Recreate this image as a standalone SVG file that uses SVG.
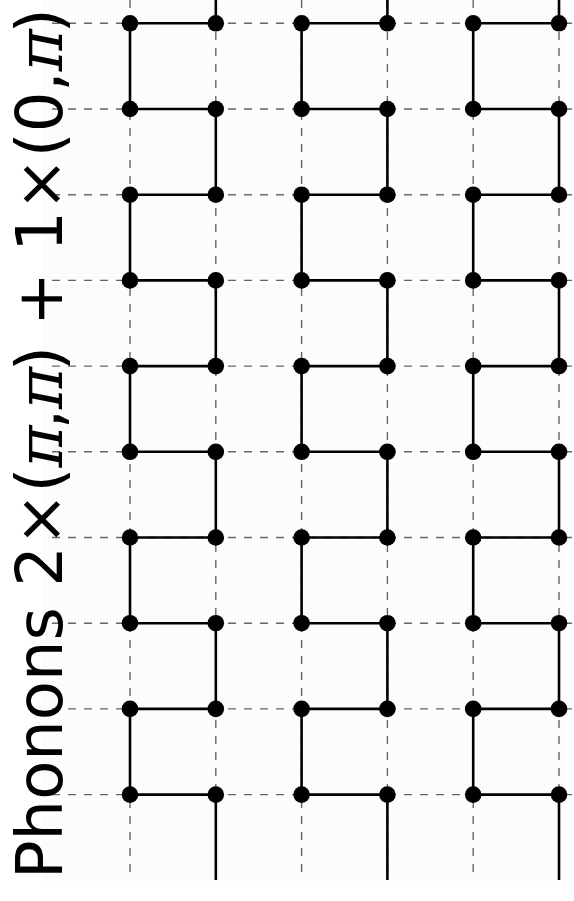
<svg xmlns="http://www.w3.org/2000/svg" width="574" height="901" viewBox="0 0 574 901">
<style>
.grid line{stroke:#666;stroke-width:1.4;stroke-dasharray:8 8;fill:none}
.edge{stroke:#000;stroke-width:2.6;fill:none;stroke-linejoin:miter}
.node circle{fill:#000}
.lbl{font-family:"DejaVu Sans",sans-serif;font-size:64px;fill:#000}
.pi{font-family:"DejaVu Serif",serif;font-style:italic;letter-spacing:-4px}
</style>
<rect x="0" y="0" width="574" height="901" fill="#fff"/>
<rect x="42" y="0" width="521" height="881" fill="#fcfcfc"/>
<g id="grid" class="grid">
<line x1="52" y1="23.3" x2="574" y2="23.3"/>
<line x1="52" y1="109" x2="574" y2="109"/>
<line x1="52" y1="194.7" x2="574" y2="194.7"/>
<line x1="52" y1="280.4" x2="574" y2="280.4"/>
<line x1="52" y1="366.1" x2="574" y2="366.1"/>
<line x1="52" y1="451.8" x2="574" y2="451.8"/>
<line x1="52" y1="537.5" x2="574" y2="537.5"/>
<line x1="52" y1="623.2" x2="574" y2="623.2"/>
<line x1="52" y1="708.9" x2="574" y2="708.9"/>
<line x1="52" y1="794.6" x2="574" y2="794.6"/>
<line x1="130" y1="0" x2="130" y2="880"/>
<line x1="215.8" y1="0" x2="215.8" y2="880"/>
<line x1="301.6" y1="0" x2="301.6" y2="880"/>
<line x1="387.4" y1="0" x2="387.4" y2="880"/>
<line x1="473.2" y1="0" x2="473.2" y2="880"/>
<line x1="559" y1="0" x2="559" y2="880"/>
</g>
<g id="connectors">
<path class="edge" d="M215.8 0V23.3H130V109H215.8V194.7H130V280.4H215.8V366.1H130V451.8H215.8V537.5H130V623.2H215.8V708.9H130V794.6H215.8V880"/>
<path class="edge" d="M387.4 0V23.3H301.6V109H387.4V194.7H301.6V280.4H387.4V366.1H301.6V451.8H387.4V537.5H301.6V623.2H387.4V708.9H301.6V794.6H387.4V880"/>
<path class="edge" d="M559 0V23.3H473.2V109H559V194.7H473.2V280.4H559V366.1H473.2V451.8H559V537.5H473.2V623.2H559V708.9H473.2V794.6H559V880"/>
</g>
<g id="nodes">
<g id="n0-0" class="node"><circle cx="130" cy="23.3" r="8.3"/></g>
<g id="n0-1" class="node"><circle cx="215.8" cy="23.3" r="8.3"/></g>
<g id="n0-2" class="node"><circle cx="301.6" cy="23.3" r="8.3"/></g>
<g id="n0-3" class="node"><circle cx="387.4" cy="23.3" r="8.3"/></g>
<g id="n0-4" class="node"><circle cx="473.2" cy="23.3" r="8.3"/></g>
<g id="n0-5" class="node"><circle cx="559" cy="23.3" r="8.3"/></g>
<g id="n1-0" class="node"><circle cx="130" cy="109" r="8.3"/></g>
<g id="n1-1" class="node"><circle cx="215.8" cy="109" r="8.3"/></g>
<g id="n1-2" class="node"><circle cx="301.6" cy="109" r="8.3"/></g>
<g id="n1-3" class="node"><circle cx="387.4" cy="109" r="8.3"/></g>
<g id="n1-4" class="node"><circle cx="473.2" cy="109" r="8.3"/></g>
<g id="n1-5" class="node"><circle cx="559" cy="109" r="8.3"/></g>
<g id="n2-0" class="node"><circle cx="130" cy="194.7" r="8.3"/></g>
<g id="n2-1" class="node"><circle cx="215.8" cy="194.7" r="8.3"/></g>
<g id="n2-2" class="node"><circle cx="301.6" cy="194.7" r="8.3"/></g>
<g id="n2-3" class="node"><circle cx="387.4" cy="194.7" r="8.3"/></g>
<g id="n2-4" class="node"><circle cx="473.2" cy="194.7" r="8.3"/></g>
<g id="n2-5" class="node"><circle cx="559" cy="194.7" r="8.3"/></g>
<g id="n3-0" class="node"><circle cx="130" cy="280.4" r="8.3"/></g>
<g id="n3-1" class="node"><circle cx="215.8" cy="280.4" r="8.3"/></g>
<g id="n3-2" class="node"><circle cx="301.6" cy="280.4" r="8.3"/></g>
<g id="n3-3" class="node"><circle cx="387.4" cy="280.4" r="8.3"/></g>
<g id="n3-4" class="node"><circle cx="473.2" cy="280.4" r="8.3"/></g>
<g id="n3-5" class="node"><circle cx="559" cy="280.4" r="8.3"/></g>
<g id="n4-0" class="node"><circle cx="130" cy="366.1" r="8.3"/></g>
<g id="n4-1" class="node"><circle cx="215.8" cy="366.1" r="8.3"/></g>
<g id="n4-2" class="node"><circle cx="301.6" cy="366.1" r="8.3"/></g>
<g id="n4-3" class="node"><circle cx="387.4" cy="366.1" r="8.3"/></g>
<g id="n4-4" class="node"><circle cx="473.2" cy="366.1" r="8.3"/></g>
<g id="n4-5" class="node"><circle cx="559" cy="366.1" r="8.3"/></g>
<g id="n5-0" class="node"><circle cx="130" cy="451.8" r="8.3"/></g>
<g id="n5-1" class="node"><circle cx="215.8" cy="451.8" r="8.3"/></g>
<g id="n5-2" class="node"><circle cx="301.6" cy="451.8" r="8.3"/></g>
<g id="n5-3" class="node"><circle cx="387.4" cy="451.8" r="8.3"/></g>
<g id="n5-4" class="node"><circle cx="473.2" cy="451.8" r="8.3"/></g>
<g id="n5-5" class="node"><circle cx="559" cy="451.8" r="8.3"/></g>
<g id="n6-0" class="node"><circle cx="130" cy="537.5" r="8.3"/></g>
<g id="n6-1" class="node"><circle cx="215.8" cy="537.5" r="8.3"/></g>
<g id="n6-2" class="node"><circle cx="301.6" cy="537.5" r="8.3"/></g>
<g id="n6-3" class="node"><circle cx="387.4" cy="537.5" r="8.3"/></g>
<g id="n6-4" class="node"><circle cx="473.2" cy="537.5" r="8.3"/></g>
<g id="n6-5" class="node"><circle cx="559" cy="537.5" r="8.3"/></g>
<g id="n7-0" class="node"><circle cx="130" cy="623.2" r="8.3"/></g>
<g id="n7-1" class="node"><circle cx="215.8" cy="623.2" r="8.3"/></g>
<g id="n7-2" class="node"><circle cx="301.6" cy="623.2" r="8.3"/></g>
<g id="n7-3" class="node"><circle cx="387.4" cy="623.2" r="8.3"/></g>
<g id="n7-4" class="node"><circle cx="473.2" cy="623.2" r="8.3"/></g>
<g id="n7-5" class="node"><circle cx="559" cy="623.2" r="8.3"/></g>
<g id="n8-0" class="node"><circle cx="130" cy="708.9" r="8.3"/></g>
<g id="n8-1" class="node"><circle cx="215.8" cy="708.9" r="8.3"/></g>
<g id="n8-2" class="node"><circle cx="301.6" cy="708.9" r="8.3"/></g>
<g id="n8-3" class="node"><circle cx="387.4" cy="708.9" r="8.3"/></g>
<g id="n8-4" class="node"><circle cx="473.2" cy="708.9" r="8.3"/></g>
<g id="n8-5" class="node"><circle cx="559" cy="708.9" r="8.3"/></g>
<g id="n9-0" class="node"><circle cx="130" cy="794.6" r="8.3"/></g>
<g id="n9-1" class="node"><circle cx="215.8" cy="794.6" r="8.3"/></g>
<g id="n9-2" class="node"><circle cx="301.6" cy="794.6" r="8.3"/></g>
<g id="n9-3" class="node"><circle cx="387.4" cy="794.6" r="8.3"/></g>
<g id="n9-4" class="node"><circle cx="473.2" cy="794.6" r="8.3"/></g>
<g id="n9-5" class="node"><circle cx="559" cy="794.6" r="8.3"/></g>
</g>
<g id="label">
<text class="lbl" transform="translate(62,879) rotate(-90)">Phonons 2×(<tspan class="pi">π</tspan>,<tspan class="pi">π</tspan>) + 1×(0,<tspan class="pi">π</tspan>)</text>
</g>
</svg>
